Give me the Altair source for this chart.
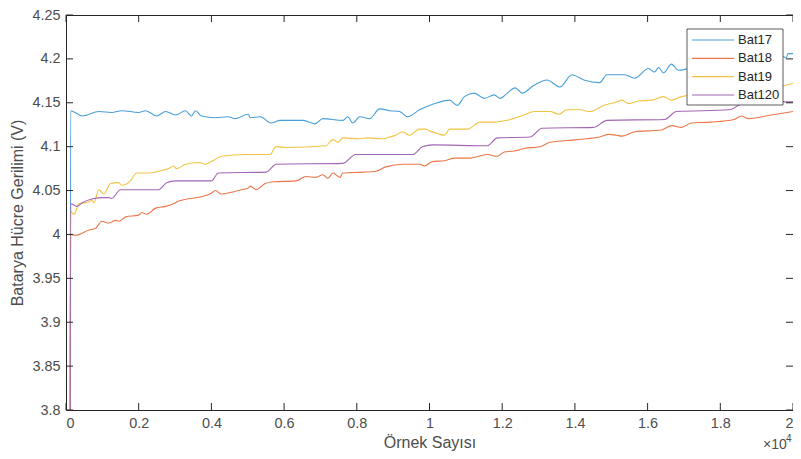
import altair as alt
import pandas as pd

names = ["Bat17", "Bat18", "Bat19", "Bat120"]
colors = ["#4a9fd9", "#ec7649", "#f2c443", "#a266b3"]

bat17_x = [110, 129, 447, 904, 1260, 1534, 2000, 2192, 2493, 2740, 3014, 3288, 3452, 3562, 3726, 4110, 4466, 4658,
           5014, 5068, 5342, 5644, 5890, 6521, 6849, 7068, 7616, 7753, 7890, 8082, 8356, 8630, 8904, 9178, 9397,
           9726, 10000, 10219, 10548, 10767, 10959, 11233, 11507, 11781, 11945, 12137, 12356, 12548, 12877, 13233,
           13589, 13918, 14247, 14685, 14877, 15151, 15370, 15644, 16027, 16192, 16301, 16438, 16658, 16849, 17342,
           18164, 18986, 19671, 19726, 19808, 19863, 20000]
bat17_y = [3.70, 4.141, 4.135, 4.140, 4.139, 4.141, 4.139, 4.141, 4.135, 4.140, 4.136, 4.141, 4.135, 4.141, 4.135,
           4.133, 4.134, 4.132, 4.137, 4.133, 4.134, 4.127, 4.130, 4.130, 4.126, 4.132, 4.130, 4.134, 4.127, 4.134,
           4.132, 4.143, 4.141, 4.140, 4.134, 4.142, 4.147, 4.150, 4.153, 4.147, 4.157, 4.161, 4.155, 4.159, 4.155,
           4.161, 4.167, 4.161, 4.170, 4.176, 4.168, 4.182, 4.176, 4.173, 4.182, 4.182, 4.182, 4.178, 4.189, 4.185,
           4.190, 4.184, 4.194, 4.187, 4.191, 4.194, 4.199, 4.202, 4.203, 4.201, 4.206, 4.206]

bat18_x = [110, 129, 266, 630, 814, 986, 1178, 1370, 1452, 1644, 2000, 2082, 2219, 2466, 2740, 2959, 3096, 3288,
           3726, 4000, 4110, 4274, 4548, 4822, 5014, 5068, 5233, 5479, 5699, 6329, 6603, 6877, 7068, 7205, 7342,
           7534, 7616, 8164, 8521, 8795, 9260, 9726, 9863, 10082, 10411, 10685, 11123, 11589, 11863, 12055, 12329,
           12603, 13041, 13315, 13781, 14329, 14685, 14932, 15151, 15288, 15644, 16384, 16658, 16932, 17205, 17753,
           18384, 18575, 18767, 19397, 20000]
bat18_y = [3.70, 4.000, 3.999, 4.005, 4.007, 4.015, 4.013, 4.016, 4.015, 4.020, 4.022, 4.025, 4.023, 4.030, 4.032,
           4.035, 4.038, 4.040, 4.043, 4.047, 4.050, 4.046, 4.048, 4.051, 4.053, 4.055, 4.051, 4.058, 4.060, 4.061,
           4.066, 4.065, 4.068, 4.064, 4.070, 4.065, 4.070, 4.071, 4.072, 4.077, 4.080, 4.080, 4.078, 4.083, 4.084,
           4.087, 4.087, 4.091, 4.089, 4.094, 4.095, 4.098, 4.100, 4.105, 4.107, 4.109, 4.111, 4.114, 4.113, 4.112,
           4.117, 4.119, 4.124, 4.122, 4.127, 4.128, 4.131, 4.135, 4.132, 4.136, 4.140]

bat19_x = [110, 129, 219, 356, 630, 721, 767, 904, 1041, 1225, 1452, 1534, 1773, 1945, 2274, 2548, 2822, 2959,
           3041, 3288, 3644, 3836, 4000, 4274, 4932, 5616, 5781, 6055, 7151, 7342, 7479, 7616, 8082, 8301, 8712,
           8904, 9068, 9260, 9452, 9726, 9890, 10000, 10219, 10411, 10548, 11041, 11397, 11781, 12137, 12603,
           12877, 13315, 13562, 13781, 14137, 14411, 14795, 15151, 15288, 15479, 15753, 16110, 16438, 16658, 16932,
           17890, 18986, 19808, 20000]
bat19_y = [3.70, 4.026, 4.023, 4.035, 4.037, 4.039, 4.036, 4.051, 4.046, 4.058, 4.059, 4.056, 4.061, 4.070, 4.070,
           4.072, 4.075, 4.078, 4.075, 4.080, 4.082, 4.080, 4.083, 4.089, 4.091, 4.091, 4.100, 4.099, 4.101, 4.108,
           4.105, 4.110, 4.109, 4.110, 4.109, 4.111, 4.113, 4.117, 4.113, 4.120, 4.120, 4.118, 4.115, 4.113, 4.120,
           4.120, 4.128, 4.128, 4.130, 4.136, 4.140, 4.140, 4.137, 4.142, 4.142, 4.140, 4.147, 4.151, 4.153, 4.149,
           4.152, 4.153, 4.157, 4.153, 4.157, 4.162, 4.167, 4.170, 4.172]

bat120_x = [110, 129, 301, 447, 677, 986, 1178, 1260, 1499, 2548, 2767, 3014, 4000, 4192, 5507, 5781, 7616, 7973,
            9534, 9808, 10082, 11589, 11863, 12767, 13096, 14521, 14877, 16466, 16795, 18247, 18712, 20000]
bat120_y = [3.60, 4.035, 4.032, 4.036, 4.040, 4.042, 4.042, 4.041, 4.051, 4.051, 4.059, 4.061, 4.061, 4.070, 4.071,
            4.080, 4.081, 4.091, 4.091, 4.100, 4.102, 4.101, 4.110, 4.111, 4.121, 4.122, 4.130, 4.131, 4.140, 4.142,
            4.151, 4.151]

x_ticks = [0, 2000, 4000, 6000, 8000, 10000, 12000, 14000, 16000, 18000, 20000]
y_ticks = [3.8, 3.85, 3.9, 3.95, 4.0, 4.05, 4.1, 4.15, 4.2, 4.25]

series_x = [bat17_x, bat18_x, bat19_x, bat120_x]
series_y = [bat17_y, bat18_y, bat19_y, bat120_y]
rows = []
for n, xs, ys in zip(names, series_x, series_y):
    for i, (a, b) in enumerate(zip(xs, ys)):
        rows.append({"series": n, "x": a, "y": b, "idx": i})
df = pd.DataFrame(rows)

W, H = 727, 395
FONT = "Liberation Sans"
AX = "#262626"
LBL = "#4d4d4d"

xscale = alt.Scale(domain=[0, 20000], nice=False, zero=False)
yscale = alt.Scale(domain=[3.8, 4.25], nice=False, zero=False)

lines = alt.Chart(df).mark_line(clip=True, strokeWidth=1.1, interpolate="monotone").encode(
    x=alt.X("x:Q", scale=xscale,
            axis=alt.Axis(values=x_ticks, labelExpr="format(datum.value/10000, '.1~f')",
                          title="Örnek Sayısı", grid=False, ticks=False, tickSize=0, domain=False,
                          labelPadding=6, titlePadding=5, labelFont=FONT, titleFont=FONT,
                          labelFontSize=14.4, titleFontSize=16, labelColor=LBL, titleColor=LBL,
                          titleFontWeight="normal")),
    y=alt.Y("y:Q", scale=yscale,
            axis=alt.Axis(values=y_ticks, format=".2~f", title="Batarya Hücre Gerilimi (V)",
                          grid=False, ticks=False, tickSize=0, domain=False,
                          labelPadding=6, titlePadding=6, labelFont=FONT, titleFont=FONT,
                          labelFontSize=14.4, titleFontSize=16, labelColor=LBL, titleColor=LBL,
                          titleFontWeight="normal")),
    color=alt.Color("series:N", scale=alt.Scale(domain=names, range=colors), legend=None),
    order=alt.Order("idx:Q"),
)

xt = pd.DataFrame({"x": x_ticks})
yt = pd.DataFrame({"y": y_ticks})
tick_b = alt.Chart(xt).mark_rule(color=AX, strokeWidth=1).encode(x="x:Q", y=alt.value(H), y2=alt.value(H - 7))
tick_t = alt.Chart(xt).mark_rule(color=AX, strokeWidth=1).encode(x="x:Q", y=alt.value(0), y2=alt.value(7))
tick_l = alt.Chart(yt).mark_rule(color=AX, strokeWidth=1).encode(y="y:Q", x=alt.value(0), x2=alt.value(7))
tick_r = alt.Chart(yt).mark_rule(color=AX, strokeWidth=1).encode(y="y:Q", x=alt.value(W), x2=alt.value(W - 7))

dummy = pd.DataFrame({"a": [0]})
LX0, LX1, LY0, LY1 = 621, 717, 14, 90
leg_box = alt.Chart(dummy).mark_rect(fill="white", stroke="#333333", strokeWidth=0.8).encode(
    x=alt.value(LX0), x2=alt.value(LX1), y=alt.value(LY0), y2=alt.value(LY1))
layers = [lines, tick_b, tick_t, tick_l, tick_r, leg_box]
for i, (n, c) in enumerate(zip(names, colors)):
    yy = 25 + i * 18.33
    layers.append(alt.Chart(dummy).mark_rule(color=c, strokeWidth=1.1).encode(
        x=alt.value(626), x2=alt.value(668), y=alt.value(yy)))
    layers.append(alt.Chart(dummy).mark_text(text=n, align="left", baseline="middle", font=FONT,
                                             fontSize=13, color="#262626").encode(
        x=alt.value(672), y=alt.value(yy)))

layers.append(alt.Chart(dummy).mark_text(text="×10", align="left", baseline="middle", font=FONT,
                                         fontSize=14, color=LBL).encode(
    x=alt.value(697), y=alt.value(430)))
layers.append(alt.Chart(dummy).mark_text(text="4", align="left", baseline="middle", font=FONT,
                                         fontSize=10, color=LBL).encode(
    x=alt.value(720), y=alt.value(424)))

chart = alt.layer(*layers).properties(
    width=W, height=H,
    autosize=alt.AutoSizeParams(type="none"),
    padding={"left": 58, "top": 7, "right": 0, "bottom": 41},
    background="white",
).configure_view(stroke=AX, strokeWidth=1)

chart.save("out.html", embed_options={"renderer": "svg", "actions": False})
